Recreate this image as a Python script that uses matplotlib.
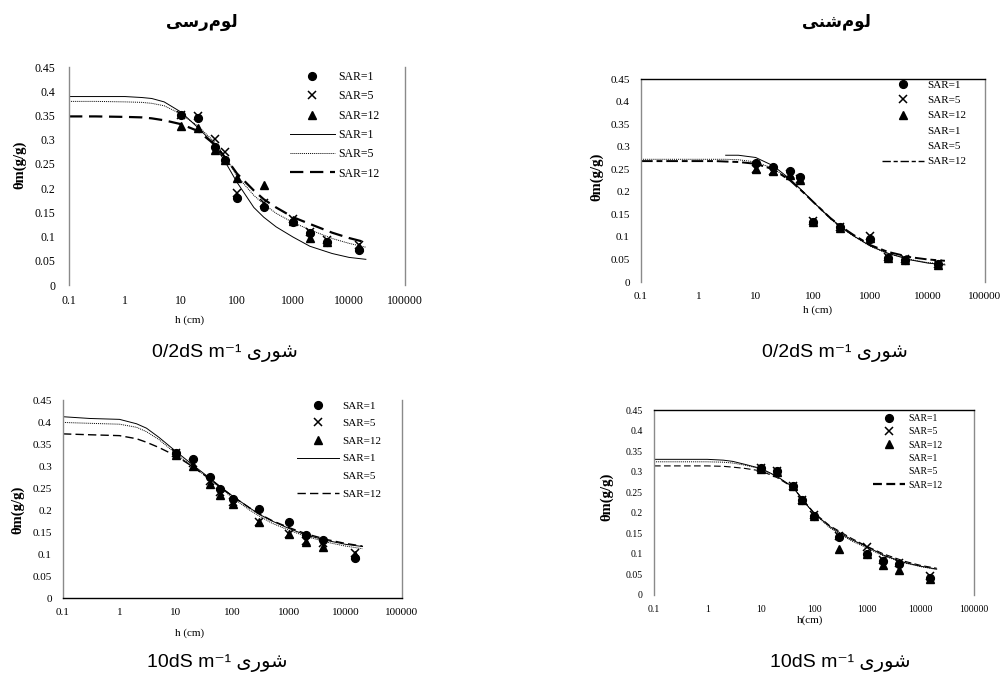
import matplotlib
matplotlib.use("Agg")
import matplotlib.pyplot as plt
from matplotlib.lines import Line2D

W, H = 1006, 682

# ---------------- data ----------------
H_POINTS = [10, 20, 40, 60, 100, 300, 1000, 2000, 4000, 15000]
H_CURVE = [0.1, 0.3, 1, 2, 3, 5, 10, 20, 40, 70, 100, 200, 300, 500, 1000, 2000, 5000, 10000, 20000]

# clay loam, EC 0.2
CL02_SAR1_PTS = [0.350, 0.345, 0.284, 0.258, 0.179, 0.162, 0.131, 0.108, 0.088, 0.072]
CL02_SAR5_PTS = [0.350, 0.348, 0.301, 0.274, 0.190, 0.169, 0.137, 0.110, 0.093, 0.083]
CL02_SAR12_PTS = [0.329, 0.325, 0.279, 0.257, 0.220, 0.206, 0.133, 0.098, 0.089, 0.078]
CL02_SAR1_FIT = [0.389, 0.389, 0.389, 0.387, 0.385, 0.378, 0.357, 0.325, 0.290, 0.243, 0.212, 0.160, 0.140, 0.120, 0.099, 0.080, 0.065, 0.057, 0.053]
CL02_SAR5_FIT = [0.379, 0.379, 0.378, 0.377, 0.375, 0.370, 0.353, 0.328, 0.295, 0.255, 0.225, 0.185, 0.167, 0.148, 0.129, 0.114, 0.096, 0.086, 0.078]
CL02_SAR12_FIT = [0.348, 0.348, 0.347, 0.346, 0.344, 0.340, 0.332, 0.318, 0.290, 0.255, 0.230, 0.195, 0.177, 0.160, 0.140, 0.126, 0.108, 0.097, 0.088]

# sandy loam, EC 0.2
SL02_SAR1_PTS = [0.263, 0.255, 0.247, 0.232, 0.133, 0.121, 0.095, 0.054, 0.049, 0.039]
SL02_SAR5_PTS = [0.250, 0.245, 0.240, 0.228, 0.135, 0.122, 0.102, 0.055, 0.050, 0.040]
SL02_SAR12_PTS = [0.250, 0.245, 0.238, 0.226, 0.133, 0.120, 0.097, 0.053, 0.048, 0.038]
SL02_SAR1_FIT = [None, None, None, None, 0.281, 0.281, 0.276, 0.258, 0.228, 0.198, 0.178, 0.142, 0.123, 0.103, 0.080, 0.064, 0.049, 0.042, 0.038]
SL02_SAR5_FIT = [0.272, 0.272, 0.272, 0.272, 0.272, 0.271, 0.266, 0.252, 0.227, 0.198, 0.178, 0.140, 0.122, 0.102, 0.079, 0.063, 0.050, 0.043, 0.040]
SL02_SAR12_FIT = [0.268, 0.268, 0.268, 0.268, 0.267, 0.266, 0.262, 0.250, 0.225, 0.197, 0.178, 0.142, 0.124, 0.105, 0.082, 0.067, 0.055, 0.050, 0.047]

# clay loam, EC 10
CL10_SAR1_PTS = [0.329, 0.315, 0.275, 0.248, 0.226, 0.203, 0.173, 0.143, 0.132, 0.090]
CL10_SAR5_PTS = [0.330, 0.306, 0.267, 0.241, 0.218, 0.173, 0.145, 0.130, 0.124, 0.102]
CL10_SAR12_PTS = [0.326, 0.301, 0.260, 0.233, 0.214, 0.173, 0.145, 0.128, 0.117, 0.098]
CL10_SAR1_FIT = [0.412, 0.408, 0.406, 0.396, 0.386, 0.365, 0.333, 0.302, 0.272, 0.247, 0.232, 0.205, 0.190, 0.175, 0.158, 0.143, 0.130, 0.122, 0.117]
CL10_SAR5_FIT = [0.399, 0.397, 0.395, 0.388, 0.378, 0.360, 0.328, 0.298, 0.270, 0.244, 0.228, 0.200, 0.186, 0.170, 0.154, 0.140, 0.126, 0.118, 0.112]
CL10_SAR12_FIT = [0.373, 0.371, 0.369, 0.362, 0.354, 0.342, 0.323, 0.298, 0.270, 0.246, 0.231, 0.205, 0.191, 0.176, 0.160, 0.146, 0.132, 0.124, 0.118]

# sandy loam, EC 10
SL10_SAR1_PTS = [0.309, 0.302, 0.266, 0.231, 0.193, 0.140, 0.100, 0.083, 0.075, 0.042]
SL10_SAR5_PTS = [0.310, 0.302, 0.265, 0.232, 0.195, 0.143, 0.117, 0.085, 0.079, 0.046]
SL10_SAR12_PTS = [0.306, 0.300, 0.264, 0.230, 0.192, 0.112, 0.100, 0.073, 0.061, 0.039]
SL10_SAR1_FIT = [0.330, 0.330, 0.330, 0.328, 0.325, 0.318, 0.308, 0.289, 0.263, 0.222, 0.199, 0.166, 0.152, 0.135, 0.117, 0.097, 0.079, 0.070, 0.063]
SL10_SAR5_FIT = [0.324, 0.324, 0.324, 0.323, 0.321, 0.316, 0.307, 0.289, 0.262, 0.222, 0.198, 0.163, 0.149, 0.132, 0.114, 0.095, 0.078, 0.069, 0.062]
SL10_SAR12_FIT = [0.314, 0.314, 0.314, 0.313, 0.311, 0.308, 0.302, 0.286, 0.262, 0.224, 0.200, 0.168, 0.155, 0.138, 0.118, 0.100, 0.082, 0.072, 0.065]

X_TICKS = [0.1, 1, 10, 100, 1000, 10000, 100000]
X_TICK_LABELS = ["0.1", "1", "10", "100", "1000", "10000", "100000"]
Y_TICKS = [0, 0.05, 0.1, 0.15, 0.2, 0.25, 0.3, 0.35, 0.4, 0.45]
Y_TICK_LABELS = ["0", "0.05", "0.1", "0.15", "0.2", "0.25", "0.3", "0.35", "0.4", "0.45"]
SERIES_LABELS = ["SAR=1", "SAR=5", "SAR=12"]

TITLE_CLAY = "لوم\u200cرسی"
TITLE_SAND = "لوم\u200cشنی"
SALINITY_WORD = "شوری"
EC_LOW = "0/2dS m"
EC_HIGH = "10dS m"
Y_LABEL = "θm(g/g)"

# ---------------- simple Persian shaping (matplotlib has no complex layout) --------
FORMS = {
    "ل": ("\uFEDD", "\uFEDE", "\uFEDF", "\uFEE0", True),
    "و": ("\uFEED", "\uFEEE", None, None, False),
    "م": ("\uFEE1", "\uFEE2", "\uFEE3", "\uFEE4", True),
    "ر": ("\uFEAD", "\uFEAE", None, None, False),
    "س": ("\uFEB1", "\uFEB2", "\uFEB3", "\uFEB4", True),
    "ش": ("\uFEB5", "\uFEB6", "\uFEB7", "\uFEB8", True),
    "ن": ("\uFEE5", "\uFEE6", "\uFEE7", "\uFEE8", True),
    "ی": ("\uFEEF", "\uFEF0", "\uFEF3", "\uFEF4", True),
}


def shape(s):
    out = []
    for i, c in enumerate(s):
        if c not in FORMS:
            if c != "\u200c":
                out.append(c)
            continue
        prev = s[i - 1] if i > 0 else None
        nxt = s[i + 1] if i + 1 < len(s) else None
        jp = prev in FORMS and FORMS[prev][4]
        jn = FORMS[c][4] and nxt in FORMS
        iso, fin, ini, med, _ = FORMS[c]
        if jp and jn:
            g = med
        elif jp:
            g = fin
        elif jn:
            g = ini
        else:
            g = iso
        out.append(g)
    return "".join(reversed(out))


# ---------------- figure ----------------
fig = plt.figure(figsize=(W / 100, H / 100), dpi=100)
fig.patch.set_facecolor("white")
SERIF = ["Liberation Serif", "DejaVu Serif"]


def make_ax(l, r, t, b, spines, fs, ypad):
    ax = fig.add_axes([l / W, 1 - b / H, (r - l) / W, (b - t) / H])
    ax.set_xscale("log")
    ax.set_xlim(0.1, 100000)
    ax.set_ylim(0, 0.45)
    ax.set_xticks(X_TICKS)
    ax.set_xticklabels(X_TICK_LABELS)
    ax.set_yticks(Y_TICKS)
    ax.set_yticklabels(Y_TICK_LABELS)
    ax.minorticks_off()
    ax.tick_params(length=0, labelsize=fs)
    ax.tick_params(axis="x", pad=7)
    ax.tick_params(axis="y", pad=ypad)
    for lab in ax.get_xticklabels() + ax.get_yticklabels():
        lab.set_family(SERIF)
    for name, sp in ax.spines.items():
        if name in spines:
            sp.set_visible(True)
            sp.set_color(spines[name])
            sp.set_linewidth(1.0)
        else:
            sp.set_visible(False)
    return ax


MS_O, MS_X, MS_T = 5.6, 5.2, 6.0


def draw(ax, pts, fits, dash, dlw):
    p1, p5, p12 = pts
    f1, f5, f12 = fits
    ax.plot([h for h, v in zip(H_CURVE, f1) if v is not None],
            [v for v in f1 if v is not None], color="black", lw=0.7, ls="-")
    ax.plot(H_CURVE, f5, color="black", lw=0.7, ls=(0, (1, 1)))
    ax.plot(H_CURVE, f12, color="black", lw=dlw, ls=(0, dash))
    ax.plot(H_POINTS, p1, ls="none", marker="o", ms=MS_O, color="black")
    ax.plot(H_POINTS, p5, ls="none", marker="x", ms=MS_X, mew=1.1, color="black")
    ax.plot(H_POINTS, p12, ls="none", marker="^", ms=MS_T, color="black")


def legend(ax, x, y, fs, spacing, hl, hidden, dash, dlw):
    handles = [
        Line2D([], [], ls="none", marker="o", ms=MS_O, color="black"),
        Line2D([], [], ls="none", marker="x", ms=MS_X, mew=1.1, color="black"),
        Line2D([], [], ls="none", marker="^", ms=MS_T, color="black"),
        Line2D([], [], color="white" if 0 in hidden else "black", lw=0.7, ls="-"),
        Line2D([], [], color="white" if 1 in hidden else "black", lw=0.7, ls=(0, (1, 1))),
        Line2D([], [], color="black", lw=dlw, ls=(0, dash)),
    ]
    labels = SERIES_LABELS + SERIES_LABELS
    leg = ax.legend(handles, labels, loc="upper left",
                    bbox_to_anchor=(x / W, 1 - y / H), bbox_transform=fig.transFigure,
                    frameon=False, labelspacing=spacing,
                    handlelength=hl, handletextpad=0.3, borderpad=0, borderaxespad=0,
                    prop={"family": SERIF, "size": fs})
    return leg


GRAY = "#8a8a8a"

ax1 = make_ax(69, 405, 67, 285, {"left": GRAY, "right": GRAY}, 8.5, 10)
draw(ax1, (CL02_SAR1_PTS, CL02_SAR5_PTS, CL02_SAR12_PTS),
     (CL02_SAR1_FIT, CL02_SAR5_FIT, CL02_SAR12_FIT), (6, 3), 1.6)
legend(ax1, 290, 71, 8.5, 0.62, 3.8, [], (6, 3), 1.6)

ax2 = make_ax(641, 985, 79, 282, {"left": GRAY, "top": "black", "right": GRAY}, 8, 8)
draw(ax2, (SL02_SAR1_PTS, SL02_SAR5_PTS, SL02_SAR12_PTS),
     (SL02_SAR1_FIT, SL02_SAR5_FIT, SL02_SAR12_FIT), (6, 2, 3, 2), 1.4)
legend(ax2, 882, 80, 8, 0.5, 3.8, [0, 1], (6, 2, 3, 2), 1.0)

ax3 = make_ax(63, 402, 400, 598, {"left": GRAY, "bottom": "black", "right": GRAY}, 8, 8)
draw(ax3, (CL10_SAR1_PTS, CL10_SAR5_PTS, CL10_SAR12_PTS),
     (CL10_SAR1_FIT, CL10_SAR5_FIT, CL10_SAR12_FIT), (6, 3), 1.0)
legend(ax3, 297, 401, 8, 0.7, 3.8, [1], (6, 3), 1.0)

ax4 = make_ax(654, 974, 410, 595, {"left": GRAY, "top": "black", "right": GRAY}, 7, 8)
draw(ax4, (SL10_SAR1_PTS, SL10_SAR5_PTS, SL10_SAR12_PTS),
     (SL10_SAR1_FIT, SL10_SAR5_FIT, SL10_SAR12_FIT), (6, 3), 0.8)
legend(ax4, 873, 414, 7, 0.45, 3.3, [0, 1], (4, 2), 1.6)

# axis labels
for (x, y) in [(20, 165), (597, 177), (18, 510), (607, 497)]:
    fig.text(x / W, 1 - y / H, Y_LABEL, rotation=90, ha="center", va="center",
             family=SERIF, fontsize=10.5, fontweight="bold")
for (x, y, s) in [(190, 320, "h (cm)"), (818, 310, "h (cm)"), (190, 633, "h (cm)"), (810, 620, "h(cm)")]:
    fig.text(x / W, 1 - y / H, s, ha="center", va="center", family=SERIF, fontsize=8)

# panel titles
PERS = ["DejaVu Sans"]
fig.text(202 / W, 1 - 22 / H, shape(TITLE_CLAY), ha="center", va="center",
         family=PERS, fontsize=12, fontweight="bold")
fig.text(836 / W, 1 - 22 / H, shape(TITLE_SAND), ha="center", va="center",
         family=PERS, fontsize=12, fontweight="bold")

# salinity captions
CAP = ["Liberation Sans", "DejaVu Sans"]
for (cx, cy, ec) in [(225, 353, EC_LOW), (835, 353, EC_LOW), (217, 663, EC_HIGH), (840, 663, EC_HIGH)]:
    fig.text(cx / W, 1 - cy / H, ec + "\u207b\u00b9 " + shape(SALINITY_WORD),
             ha="center", va="center", family=CAP, fontsize=14)

fig.savefig("out.png", dpi=100)
